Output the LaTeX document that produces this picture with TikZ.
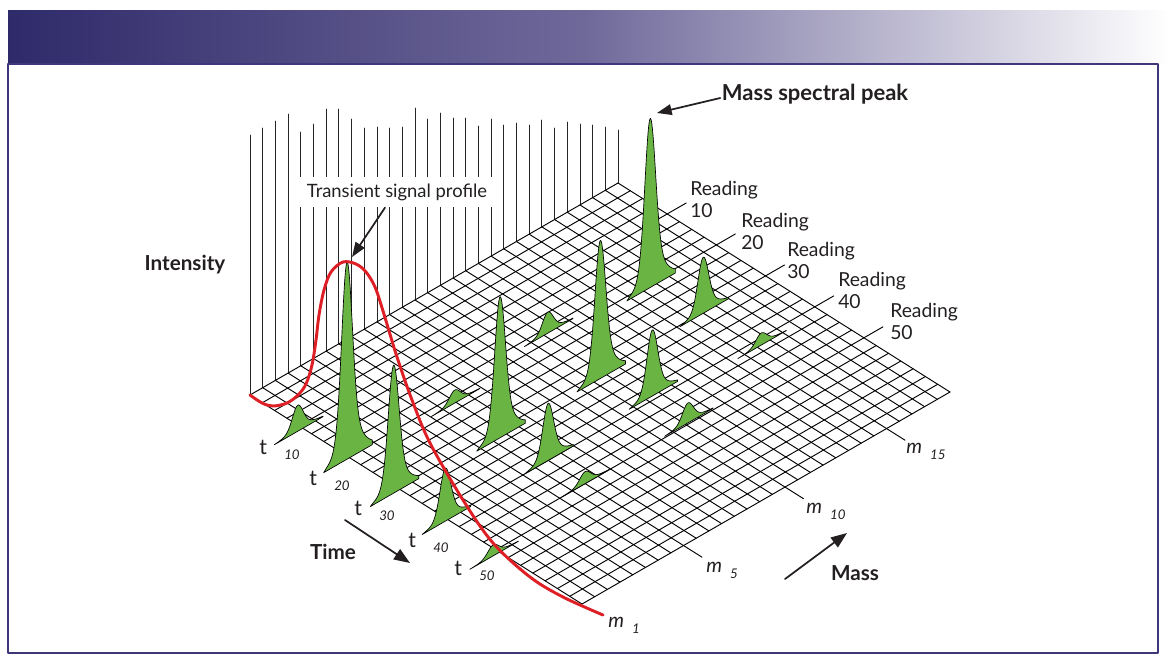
\documentclass[tikz,border=0pt]{standalone}
\usepackage{fontspec}
\setmainfont{Lato}
\usepackage{color}
\usetikzlibrary{arrows.meta}

\definecolor{hdrdark}{RGB}{47,42,105}
\definecolor{hdrmid}{RGB}{112,106,155}
\definecolor{framecol}{RGB}{62,56,122}
\definecolor{peakgreen}{RGB}{106,180,68}
\definecolor{profred}{RGB}{222,32,38}
\definecolor{txt}{RGB}{35,31,32}

\tikzset{
  declare function={pkshape(\s)=(\s<0)*(0.85*exp(-(\s)*(\s)/72)+0.15*exp(-(\s)*(\s)/256))
                                +(\s>=0)*(0.8*exp(-(\s)*(\s)/72)+0.2*exp(-(\s)*(\s)/400));},
  gridln/.style={line width=0.7pt},
  wallln/.style={line width=0.6pt,color=black!85},
  peakfill/.style={fill=peakgreen,draw=black,line width=0.5pt},
  boldlbl/.style={font=\fontsize{15.5}{18}\selectfont\bfseries,text=txt,inner sep=1pt},
  readlbl/.style={font=\fontsize{14.5}{16.5}\selectfont,text=txt,align=left,anchor=west,inner sep=0pt},
  axlbl/.style={text=txt,anchor=base west,inner sep=0pt},
  arr/.style={->,line width=1.3pt,color=txt}
}
\newcommand{\subfnt}{\fontsize{10}{12}\selectfont\itshape}

% one mass peak standing on the floor grid at (mass line, time line), height in px
\newcommand{\peak}[3]{%
  \begin{scope}[shift={(#1,#2)},x={(0.65pt,0.3744pt)},y={(0pt,0.75pt)}]
    \filldraw[peakfill] (-27,0) -- plot[domain=-22:29,samples=80] (\x,{#3*pkshape(\x)}) -- (29,0) -- cycle;
  \end{scope}}

\begin{document}
\begin{tikzpicture}[line cap=round,line join=round,>={Triangle[length=12pt,width=9pt]},x=0.75pt,y=-0.75pt]
  \useasboundingbox (0,0) rectangle (1170,664);
  % header bar and frame
  \shade[left color=hdrdark,right color=hdrmid] (8,10) rectangle (590,64);
  \shade[left color=hdrmid,right color=white] (589,10) rectangle (1170,64);
  \draw[framecol,line width=1.5pt] (8,64) rectangle (1158,653);

  % intensity wall on the back edge
  \foreach \h [count=\j from 0] in {135,128,121,114,132,124,109,109,119,128,127,128,127,108,119,
                                   113,118,118,126,119,125,123,125,120,128,122,124,125,127,130}
    \draw[wallln] (250+12.69*\j,395-7.31*\j) -- (250+12.69*\j,\h);

  % floor grid: x = mass lines, y = time lines
  \begin{scope}[shift={(250,395)},x={(9.517pt,5.483pt)},y={(9.222pt,-5.806pt)}]
    \foreach \j in {0,...,29}
      \draw[gridln] (\j,0) -- (\j,27);
    \foreach \i in {0,...,27}
      \draw[gridln] (0,\i) -- (29,\i);
    \foreach \i in {4,8,12,16,20}
      \draw[gridln] (29,\i) -- (30.5,\i);
    \foreach \j in {8,16,24}
      \draw[gridln] (\j,27) -- (\j,28.5);
    % peaks, back to front
    \foreach \mj/\ti/\hh in {23.5/8.3/169, 24.0/12.1/56, 16.3/7.4/21, 24.3/16.5/12, 15.5/12.5/138,
                             16.5/15.7/66, 7.9/8.5/13, 16.2/18.9/20, -0.4/4.3/26, 7.5/12.6/141,
                             -0.2/8.1/197, 8.0/16.0/57, 8.0/19.0/12, -0.5/12.2/128, -0.2/16.1/53,
                             -0.5/20.3/11}
      \peak{\mj}{\ti}{\hh};
  \end{scope}

  % transient signal profile
  \draw[profred,line width=2.2pt] plot[smooth,tension=0.55] coordinates {(250,395) (262,403) (273,406)
    (287,403) (298,395) (306,384) (312,365) (316,340) (319,315) (324,290) (331,272) (343,262) (356,264)
    (366,272) (375,287) (383,311) (397,357) (412,400) (430,443) (463,500) (493,543) (530,577) (563,597)
    (603,615)};

  % labels
  \node[fill=white,inner xsep=5pt,minimum height=23pt,font=\fontsize{13.8}{16}\selectfont,text=txt]
    (tsp) at (397,192) {Transient signal profile};
  \coordinate (proftop) at (352,257);
  \draw[arr,>={Triangle[length=11pt,width=8pt]}] ([xshift=-9pt]tsp.south) -- (proftop);

  \node[boldlbl,font=\fontsize{16.5}{19}\selectfont\bfseries] (msp) at (815,94) {Mass spectral peak};
  \coordinate (msptip) at (657,113);
  \draw[arr,>={Triangle[length=11pt,width=8pt]}] ([yshift=-3pt]msp.west) -- (msptip);

  \node[boldlbl] (intens) at (185,265) {Intensity};
  \node[boldlbl] (time) at (333,552) {Time};
  \node[boldlbl] (mass) at (855,573) {Mass};
  \coordinate (timetail) at (345,520);
  \coordinate (timetip) at (410,563);
  \coordinate (masstail) at (785,579);
  \coordinate (masstip) at (847,533);
  \draw[arr] (timetail) -- (timetip);
  \draw[arr] (masstail) -- (masstip);

  \foreach \r/\x/\y in {10/690/199,20/741/231,30/787/260,40/838/290,50/890/321}
    \node[readlbl] (read\r) at (\x,\y) {Reading\\\r};

  \foreach \n/\x/\y in {10/259/454,20/309/485,30/354/515,40/408/547,50/454/575}
    \node[axlbl,font=\fontsize{16}{18}\selectfont] (t\n) at (\x,\y) {t\hspace{13pt}\raisebox{-4pt}{\subfnt\n}};
  \foreach \n/\x/\y in {1/608/627,5/706/572,10/806/513,15/906/453}
    \node[axlbl,font=\fontsize{15}{18}\selectfont\itshape] (m\n) at (\x,\y) {m\hspace{6pt}\raisebox{-5pt}{\subfnt\n}};
\end{tikzpicture}
\end{document}
